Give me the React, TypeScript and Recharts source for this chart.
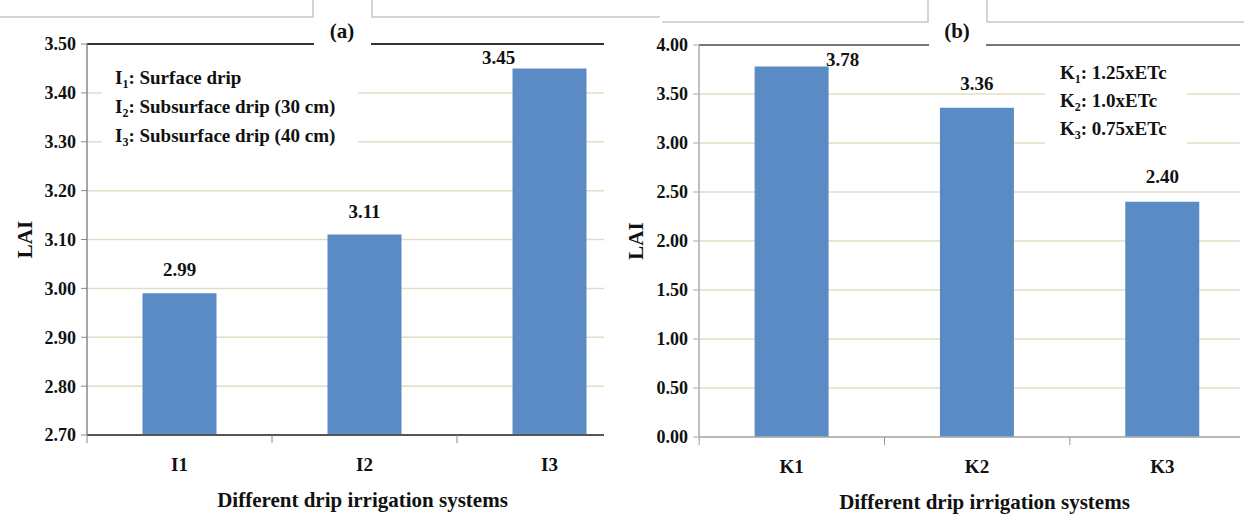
import React from 'react';
import { BarChart, Bar, XAxis, YAxis, CartesianGrid, ReferenceLine, LabelList } from 'recharts';

// panel (a): irrigation systems
const systemsA = ['I1', 'I2', 'I3'];
const laiA = [2.99, 3.11, 3.45];
const ticksA = [2.7, 2.8, 2.9, 3.0, 3.1, 3.2, 3.3, 3.4, 3.5];
const legendA = [
  ['I', '1', ': Surface drip'],
  ['I', '2', ': Subsurface drip (30 cm)'],
  ['I', '3', ': Subsurface drip (40 cm)'],
];

// panel (b): crop coefficients
const systemsB = ['K1', 'K2', 'K3'];
const laiB = [3.78, 3.36, 2.4];
const ticksB = [0, 0.5, 1, 1.5, 2, 2.5, 3, 3.5, 4];
const legendB = [
  ['K', '1', ': 1.25xETc'],
  ['K', '2', ': 1.0xETc'],
  ['K', '3', ': 0.75xETc'],
];

const xTitle = 'Different drip irrigation systems';
const yTitle = 'LAI';

const dataA = systemsA.map((name, i) => ({ name, lai: laiA[i] }));
const dataB = systemsB.map((name, i) => ({ name, lai: laiB[i] }));

const FONT = 'Liberation Serif, Times New Roman, serif';
const BAR = '#5b8bc4';
const GRID = '#e2dec6';

// label nudges [dx, dy from bar top] -- Excel had these moved by hand
const shiftA = [[0, -24], [0, -23], [-51, -11]];
const shiftB = [[51, -7], [0, -24], [0, -25]];

const valueLabel = (shift: number[][]) => (p: any) => {
  const s = shift[p.index] || [0, -20];
  return (
    <text
      x={Number(p.x) + Number(p.width) / 2 + s[0]}
      y={Number(p.y) + s[1]}
      textAnchor="middle"
      dominantBaseline="central"
      style={{ fontFamily: FONT, fontWeight: 'bold', fontSize: 19 }}
      fill="#111"
    >
      {Number(p.value).toFixed(2)}
    </text>
  );
};

const catTick = (half: number, axisGap: number, color: string) => (p: any) => (
  <g>
    <line x1={p.x - half} x2={p.x - half} y1={p.y - axisGap} y2={p.y} stroke={color} />
    <text
      x={p.x}
      y={p.y + 28}
      textAnchor="middle"
      style={{ fontFamily: FONT, fontWeight: 'bold', fontSize: 19 }}
      fill="#111"
    >
      {p.payload.value}
    </text>
  </g>
);

const tickStyle = { style: { fontFamily: FONT, fontWeight: 'bold', fontSize: 18 }, fill: '#111' };
const titleStyle = { fontFamily: FONT, fontWeight: 'bold', fontSize: 21, fill: '#111' };

function Legend({ x, y, rows, step }: { x: number; y: number; rows: string[][]; step: number }) {
  return (
    <text style={{ fontFamily: FONT, fontWeight: 'bold', fontSize: 19 }} fill="#111">
      {rows.map((r, i) => (
        <tspan key={i} x={x} y={y + i * step}>
          {r[0]}
          <tspan fontSize={12} dy={4}>{r[1]}</tspan>
          <tspan dy={-4}>{r[2]}</tspan>
        </tspan>
      ))}
    </text>
  );
}

export default function App() {
  return (
    <div style={{ position: 'absolute', left: 0, top: 0, width: 1244, height: 514, background: '#fff', fontFamily: FONT }}>
      <div style={{ position: 'absolute', left: 0, top: 0 }}>
        <BarChart width={620} height={514} data={dataA} margin={{ top: 44, right: 16, bottom: 0, left: 0 }} barCategoryGap="30%">
          <CartesianGrid vertical={false} stroke={GRID} strokeWidth={1.5} />
          <XAxis
            dataKey="name"
            height={79}
            padding={{ left: 0, right: -38 }}
            axisLine={{ stroke: '#555', strokeWidth: 2 }}
            tickLine={false}
            tick={catTick(92.5, 8, '#888')}
            interval={0}
            label={{ value: xTitle, position: 'insideBottom', offset: 7, dx: 17, style: titleStyle }}
          />
          <YAxis
            width={87}
            domain={[2.7, 3.5]}
            ticks={ticksA}
            interval={0}
            allowDataOverflow
            tickFormatter={(v: number) => v.toFixed(2)}
            tick={tickStyle}
            tickSize={6}
            tickMargin={5}
            axisLine={{ stroke: '#888', strokeWidth: 1.5 }}
            tickLine={{ stroke: '#888' }}
            label={{ value: yTitle, angle: -90, position: 'insideLeft', offset: 25, style: { ...titleStyle, textAnchor: 'middle' } }}
          />
          <ReferenceLine y={3.5} stroke="#333" strokeWidth={2} />
          <Bar dataKey="lai" fill={BAR} isAnimationActive={false}>
            <LabelList dataKey="lai" content={valueLabel(shiftA)} />
          </Bar>
        </BarChart>
      </div>
      <div style={{ position: 'absolute', left: 620, top: 0 }}>
        <BarChart width={624} height={514} data={dataB} margin={{ top: 45, right: 4, bottom: 0, left: 0 }} barCategoryGap="30%">
          <CartesianGrid vertical={false} stroke={GRID} strokeWidth={1.5} />
          <XAxis
            dataKey="name"
            height={77}
            padding={{ left: 0, right: -15 }}
            axisLine={{ stroke: '#aaa', strokeWidth: 1.5 }}
            tickLine={false}
            tick={catTick(92.5, 8, '#999')}
            interval={0}
            label={{ value: xTitle, position: 'insideBottom', offset: 5, dx: 15, style: titleStyle }}
          />
          <YAxis
            width={79}
            domain={[0, 4]}
            ticks={ticksB}
            interval={0}
            tickFormatter={(v: number) => v.toFixed(2)}
            tick={tickStyle}
            tickSize={6}
            tickMargin={5}
            axisLine={{ stroke: '#aaa', strokeWidth: 1.5 }}
            tickLine={{ stroke: '#aaa' }}
            label={{ value: yTitle, angle: -90, position: 'insideLeft', offset: 16, style: { ...titleStyle, textAnchor: 'middle' } }}
          />
          <ReferenceLine y={4} stroke="#777" strokeWidth={2} />
          <Bar dataKey="lai" fill={BAR} isAnimationActive={false}>
            <LabelList dataKey="lai" content={valueLabel(shiftB)} />
          </Bar>
        </BarChart>
      </div>
      <svg width={1244} height={514} style={{ position: 'absolute', left: 0, top: 0, pointerEvents: 'none' }}>
        {/* cropped text-box frames along the top */}
        <g stroke="#c8c8c8" strokeWidth={1.5} fill="none">
          <polyline points="0,17 313,17 313,0" />
          <polyline points="372,0 372,17 620,17 660,17" />
          <polyline points="662,22 928,22 928,0" />
          <polyline points="987,0 987,22 1244,22" />
        </g>
        <rect x={314} y={24} width={57} height={26} fill="#fff" />
        <text x={342} y={38} textAnchor="middle" style={{ fontFamily: FONT, fontWeight: 'bold', fontSize: 21 }} fill="#111">(a)</text>
        <rect x={929} y={24} width={57} height={26} fill="#fff" />
        <text x={957} y={38} textAnchor="middle" style={{ fontFamily: FONT, fontWeight: 'bold', fontSize: 21 }} fill="#111">(b)</text>
        <rect x={102} y={52} width={256} height={96} fill="#fff" />
        <Legend x={115} y={84} rows={legendA} step={29} />
        <rect x={1045} y={52} width={142} height={96} fill="#fff" />
        <Legend x={1060} y={79} rows={legendB} step={28} />
      </svg>
    </div>
  );
}
